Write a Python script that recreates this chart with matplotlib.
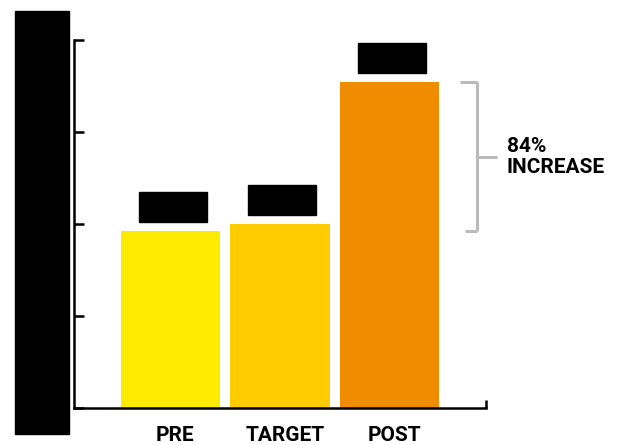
import matplotlib.pyplot as plt
from matplotlib.patches import Rectangle
from matplotlib.lines import Line2D
from matplotlib.transforms import ScaledTranslation

categories = ["PRE", "TARGET", "POST"]
values = [4.8, 5.0, 8.85]
colors = ["#FFEB00", "#FFCC00", "#F08C00"]
yticks = [0, 2.5, 5, 7.5, 10]
increase_label = "84%\nINCREASE"

plt.rcParams["font.family"] = ["Roboto", "DejaVu Sans"]

W, H = 619, 445
fig = plt.figure(figsize=(W / 100, H / 100), dpi=100)
ax = fig.add_axes([74 / W, 37 / H, 412 / W, 368 / H])

x = range(len(categories))
ax.bar(x, values, width=0.904, color=colors, zorder=2)

ax.set_xlim(-0.88, 2.88)
ax.set_ylim(0, 10)
ax.set_yticks(yticks)
ax.set_yticklabels([])
ax.tick_params(axis="y", direction="in", length=7.5, width=1.8)
ax.set_xticks(list(x))
ax.set_xticklabels(categories, fontsize=15, fontweight="bold")
ax.tick_params(axis="x", length=0, pad=13)
ax.set_xticks([2.88], minor=True)
ax.tick_params(axis="x", which="minor", direction="in", length=6, width=1.8)
shift = ScaledTranslation(5 / 100, 0, fig.dpi_scale_trans)
for lbl in ax.get_xticklabels():
    lbl.set_transform(lbl.get_transform() + shift)
for s in ["top", "right"]:
    ax.spines[s].set_visible(False)
for s in ["left", "bottom"]:
    ax.spines[s].set_linewidth(1.8)

# hidden value labels, blacked out above each bar
px = 10 / 368  # data units per pixel on y
for i, v in enumerate(values):
    ax.add_patch(Rectangle((i - 0.31 + 0.02, v + 9 * px), 0.62, 30 * px,
                           color="black", zorder=3, clip_on=False))

# blacked-out y tick labels
fig.add_artist(Rectangle((15 / W, 11 / H), 54 / W, 423 / H,
                         transform=fig.transFigure, color="black"))

# bracket between PRE and POST
gray = "#BBBBBB"
y_top, y_bot = values[2], values[0]
xb = 2.80
bracket = dict(color=gray, lw=2.2, clip_on=False, solid_capstyle="butt")
ax.add_line(Line2D([2.64, xb], [y_top, y_top], **bracket))
ax.add_line(Line2D([2.69, xb], [y_bot, y_bot], **bracket))
ax.add_line(Line2D([xb, xb], [y_bot, y_top], **bracket))
y_mid = (y_top + y_bot) / 2
ax.add_line(Line2D([xb, xb + 0.18], [y_mid, y_mid], **bracket))
ax.text(xb + 0.27, y_mid, increase_label, fontsize=15, fontweight="bold",
        va="center", ha="left", linespacing=1.1)

fig.savefig("out.png", dpi=100)
